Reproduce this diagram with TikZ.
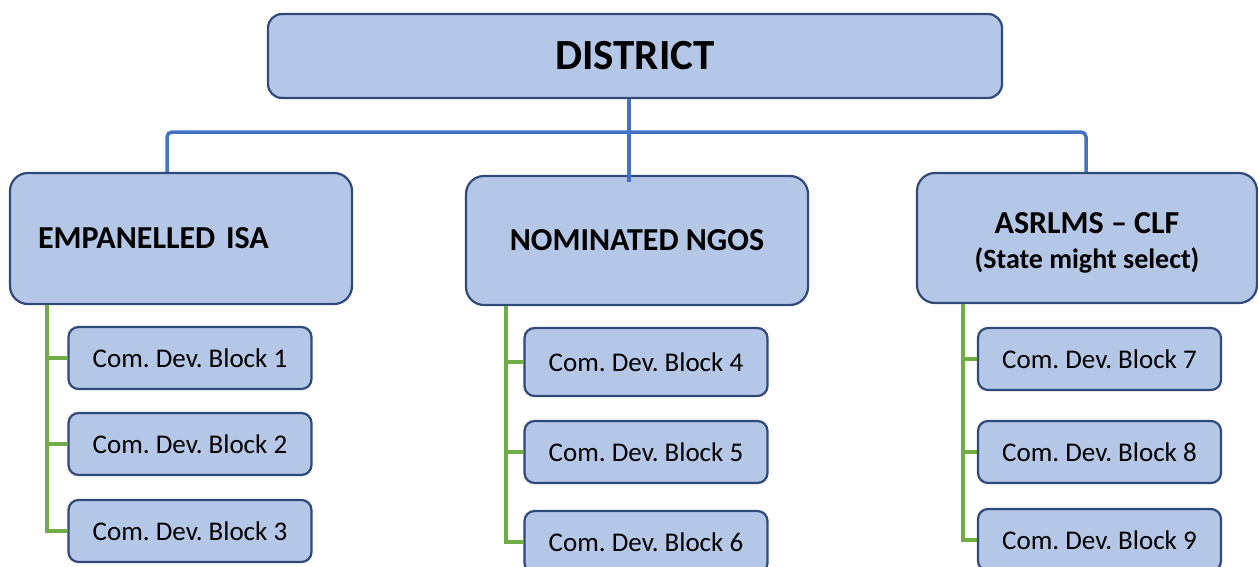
\documentclass[tikz,border=0pt]{standalone}
\usepackage{fontspec}
\setmainfont{Carlito}
\usepackage{xcolor}
\usetikzlibrary{positioning}

\definecolor{boxfill}{HTML}{B4C7E7}
\definecolor{boxline}{HTML}{2F4A78}
\definecolor{linkblue}{HTML}{4472C4}
\definecolor{linkgreen}{HTML}{70AD47}

\begin{document}
\frenchspacing
\begin{tikzpicture}[x=1pt, y=-1pt,
    orgbox/.style={draw=boxline, fill=boxfill, line width=2.2pt, rounded corners=18pt, inner sep=0pt, align=center, font=\bfseries\fontsize{32}{35}\selectfont},
    blockbox/.style={draw=boxline, fill=boxfill, line width=2.2pt, rounded corners=10pt, minimum width=243pt, minimum height=62pt, inner sep=0pt, font=\fontsize{27}{32}\selectfont},
    toplink/.style={draw=linkblue, line width=3.5pt},
    sublink/.style={draw=linkgreen, line width=3.5pt}]
    \useasboundingbox (0,0) rectangle (1258,566);
    \clip (0,0) rectangle (1258,566);

    % District
    \node[orgbox, rounded corners=14pt, minimum width=734pt, minimum height=84pt, font=\bfseries\fontsize{43}{50}\selectfont] (district) at (635,56) {DISTRICT};

    % Second level
    \node[orgbox, minimum width=342pt, minimum height=131pt, text width=286pt, align=left] (isa) at (181,238.5) {EMPANELLED ISA};
    \node[orgbox, minimum width=342pt, minimum height=129pt] (ngo) at (637,240.5) {NOMINATED NGOS};
    \node[orgbox, minimum width=340pt, minimum height=130pt] (clf) at (1087,238) {};
    \node[font=\bfseries\fontsize{32}{35}\selectfont, align=center, inner sep=0pt] (clfname) at (1087,243) {ASRLMS -- CLF\\{\fontsize{28}{35}\selectfont (State might select)}};

    % Blocks
    \node[blockbox] (b1) at (190,358) {Com. Dev. Block 1};
    \node[blockbox] (b2) at (190,444) {Com. Dev. Block 2};
    \node[blockbox] (b3) at (190,531) {Com. Dev. Block 3};
    \node[blockbox, minimum height=68pt] (b4) at (646,362) {Com. Dev. Block 4};
    \node[blockbox] (b5) at (646,452) {Com. Dev. Block 5};
    \node[blockbox] (b6) at (646,542) {Com. Dev. Block 6};
    \node[blockbox] (b7) at (1099.5,359) {Com. Dev. Block 7};
    \node[blockbox] (b8) at (1099.5,452) {Com. Dev. Block 8};
    \node[blockbox] (b9) at (1099.5,540) {Com. Dev. Block 9};

    % District links
    \coordinate (busL) at (167,132);
    \coordinate (busM) at (629,132);
    \coordinate (busR) at (1086,132);
    \draw[toplink] (district.south -| busM) -- ([yshift=-7pt]ngo.north -| busM);
    \draw[toplink, rounded corners=5pt] (isa.north -| busL) -- (busL) -- (busR) -- (clf.north -| busR);

    % Block links
    \foreach \p/\x/\b in {isa/47/b1, isa/47/b2, isa/47/b3, ngo/506/b4, ngo/506/b5, ngo/506/b6, clf/963/b7, clf/963/b8, clf/963/b9}
        \draw[sublink] (\p.south -| \x,0) |- (\b.west);

\end{tikzpicture}
\end{document}
